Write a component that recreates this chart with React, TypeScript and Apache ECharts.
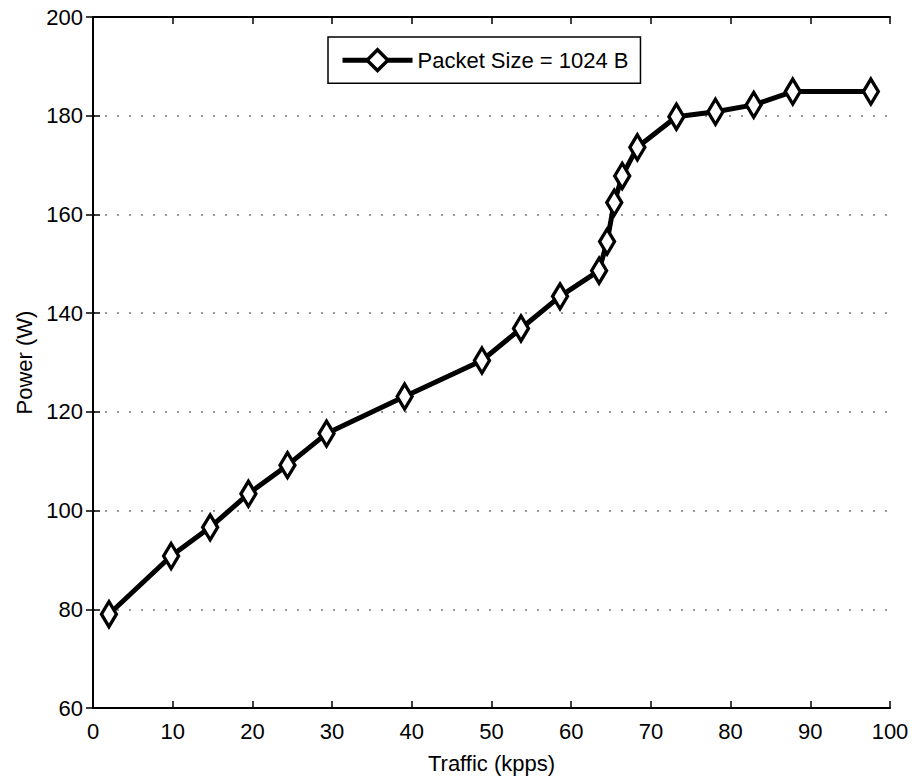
import React, { useEffect, useRef } from "react";
import * as echarts from "echarts";

const traffic = [2.0, 9.8, 14.7, 19.5, 24.4, 29.3, 39.1, 48.8, 53.7, 58.6, 63.5, 64.5, 65.4, 66.4, 68.3, 73.2, 78.1, 82.9, 87.8, 97.6];
const power = [79.0, 90.8, 96.6, 103.4, 109.2, 115.6, 123.1, 130.4, 136.9, 143.4, 148.6, 154.5, 162.4, 167.8, 173.6, 179.8, 180.8, 182.2, 184.9, 184.9];
const seriesName = "Packet Size = 1024 B";
const xTitle = "Traffic (kpps)";
const yTitle = "Power (W)";

const FONT = "Liberation Sans";

export default function App() {
  const ref = useRef<HTMLDivElement>(null);
  useEffect(() => {
    if (!ref.current) return;
    const chart = echarts.init(ref.current, null, { renderer: "svg" });
    const data = traffic.map((x, i) => [x, power[i]]);
    const hiddenAxisCommon = {
      axisLine: { show: true, lineStyle: { color: "#000", width: 2 } },
      axisTick: { show: true, inside: true, length: 7, lineStyle: { color: "#000", width: 1.5 } },
      axisLabel: { show: false },
      splitLine: { show: false },
    };
    chart.setOption({
      animation: false,
      backgroundColor: "#fff",
      textStyle: { fontFamily: FONT },
      grid: { left: 93, right: 22, top: 17, bottom: 73, containLabel: false },
      legend: {
        left: 328,
        top: 37,
        itemWidth: 70,
        itemHeight: 26,
        itemGap: 10,
        padding: [11, 12, 11, 12],
        borderColor: "#000",
        borderWidth: 1.5,
        backgroundColor: "#fff",
        textStyle: { fontFamily: FONT, fontSize: 22, color: "#000" },
        lineStyle: { width: 5, color: "#000" },
        itemStyle: { color: "#fff", borderColor: "#000", borderWidth: 3.5 },
        data: [seriesName],
      },
      xAxis: [
        {
          type: "value",
          min: 0,
          max: 100,
          interval: 10,
          name: xTitle,
          nameLocation: "middle",
          nameGap: 44,
          nameTextStyle: { fontFamily: FONT, fontSize: 22, color: "#000" },
          axisLine: { show: true, lineStyle: { color: "#000", width: 2 } },
          axisTick: { show: true, inside: true, length: 7, lineStyle: { color: "#000", width: 1.5 } },
          axisLabel: { fontFamily: FONT, fontSize: 22, color: "#000", margin: 12 },
          splitLine: { show: false },
        },
        { type: "value", position: "top", min: 0, max: 100, interval: 10, ...hiddenAxisCommon },
      ],
      yAxis: [
        {
          type: "value",
          min: 60,
          max: 200,
          interval: 20,
          name: yTitle,
          nameLocation: "middle",
          nameGap: 58,
          nameRotate: 90,
          nameTextStyle: { fontFamily: FONT, fontSize: 22, color: "#000" },
          axisLine: { show: true, lineStyle: { color: "#000", width: 2 } },
          axisTick: { show: true, inside: true, length: 7, lineStyle: { color: "#000", width: 1.5 } },
          axisLabel: { fontFamily: FONT, fontSize: 22, color: "#000", margin: 10 },
          splitLine: { show: true, lineStyle: { color: "#777", type: [2, 10], width: 1.5 } },
        },
        { type: "value", position: "right", min: 60, max: 200, interval: 20, ...hiddenAxisCommon },
      ],
      series: [
        {
          name: seriesName,
          type: "line",
          data,
          symbol: "diamond",
          symbolSize: [15, 25],
          showAllSymbol: true,
          lineStyle: { color: "#000", width: 5 },
          itemStyle: { color: "#fff", borderColor: "#000", borderWidth: 3.5 },
        },
      ],
    });
    return () => chart.dispose();
  }, []);
  return <div ref={ref} style={{ position: "absolute", left: 0, top: 0, width: 912, height: 781 }} />;
}
